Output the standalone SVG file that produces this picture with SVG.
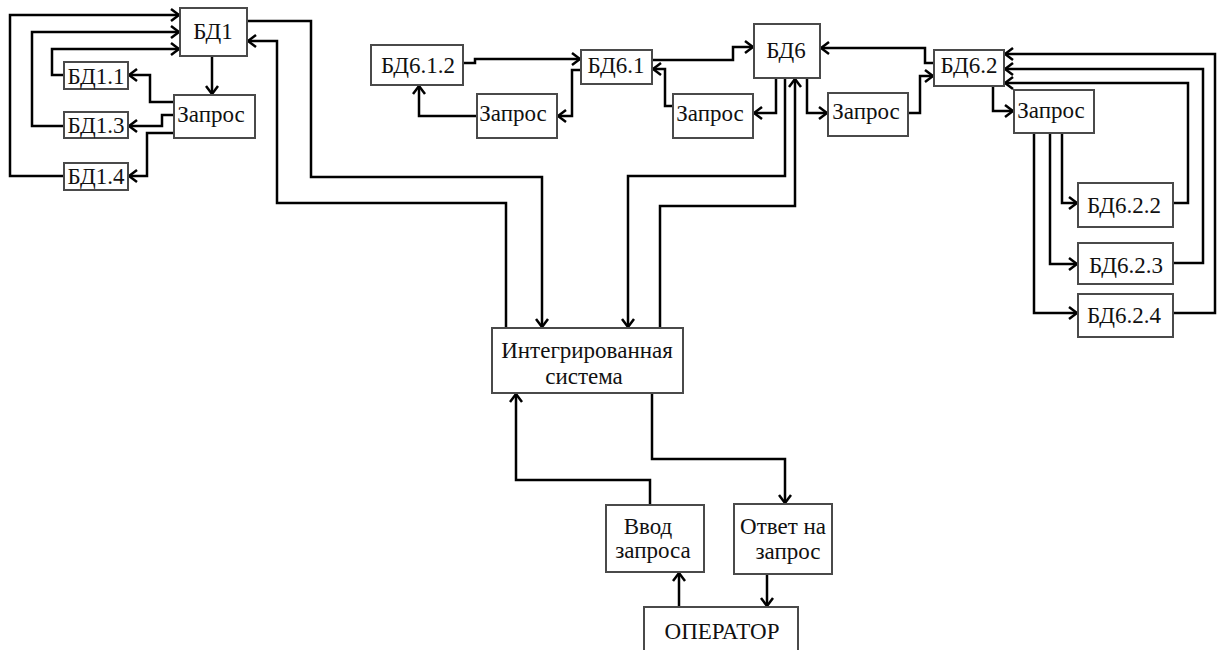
<svg xmlns="http://www.w3.org/2000/svg" width="1218" height="650" viewBox="0 0 1218 650">
<defs>
<marker id="ah" viewBox="-10 -8 12 16" markerWidth="12" markerHeight="16" refX="0" refY="0" orient="auto" markerUnits="userSpaceOnUse">
<path d="M-8,-6 L0,0 L-8,6" fill="none" stroke="#000" stroke-width="2.5" stroke-linejoin="miter"/>
</marker>
<style>
.box{fill:#fff;stroke:#4a4a4a;stroke-width:2}
.t{font-size:23px;fill:#111;text-anchor:middle}
.c{fill:none;stroke:#000;stroke-width:2.5;stroke-linejoin:miter}
.a{marker-end:url(#ah)}
</style>
</defs>
<rect width="1218" height="650" fill="#fff"/>
<g id="connectors">
<path class="c a" d="M64,176 H10 V15 H179"/>
<path class="c a" d="M64,126 H32 V32 H179"/>
<path class="c a" d="M64,75 H52 V49 H179"/>
<path class="c a" d="M212,56 V94"/>
<path class="c a" d="M174,102 H150 V75 H129"/>
<path class="c a" d="M174,115 H162 V126 H129"/>
<path class="c a" d="M174,133 H147 V176 H129"/>
<path class="c a" d="M247,21 H311 V177 H542 V327"/>
<path class="c a" d="M506,328 V203 H277 V41 H248"/>
<path class="c a" d="M463,63 H475 V59 H580"/>
<path class="c a" d="M477,116 H419 V86"/>
<path class="c a" d="M581,70 H572 V116 H558"/>
<path class="c a" d="M673,106 H665 V69 H653"/>
<path class="c a" d="M652,60 H733 V47 H753"/>
<path class="c a" d="M776,78 V113 H754"/>
<path class="c a" d="M785,78 V176 H628 V327"/>
<path class="c a" d="M660,328 V206 H795 V79"/>
<path class="c a" d="M807,78 V113 H827"/>
<path class="c a" d="M908,113 H920 V76 H933"/>
<path class="c a" d="M934,63 H925 V48 H821"/>
<path class="c a" d="M993,86 V111 H1013"/>
<path class="c a" d="M1062,133 V203 H1077"/>
<path class="c a" d="M1050,133 V264 H1077"/>
<path class="c a" d="M1034,133 V313 H1077"/>
<path class="c a" d="M1173,203 H1188 V83 H1005"/>
<path class="c a" d="M1173,263 H1203 V69 H1005"/>
<path class="c a" d="M1173,313 H1215 V54 H1005"/>
<path class="c a" d="M650,505 V480 H516 V394"/>
<path class="c a" d="M652,393 V459 H785 V503"/>
<path class="c a" d="M679,607 V573"/>
<path class="c a" d="M767,574 V606"/>
</g>
<g font-family="Liberation Serif, Times New Roman, serif">
<g id="bd1"><rect class="box" x="180" y="8" width="67" height="48"/><text class="t" x="213" y="39">БД1</text></g>
<g id="bd1-1"><rect class="box" x="64" y="62" width="64" height="27"/><text class="t" x="96" y="84">БД1.1</text></g>
<g id="bd1-3"><rect class="box" x="64" y="112" width="64" height="26"/><text class="t" x="96" y="133">БД1.3</text></g>
<g id="bd1-4"><rect class="box" x="64" y="163" width="64" height="27"/><text class="t" x="96" y="184">БД1.4</text></g>
<g id="zapros1"><rect class="box" x="174" y="95" width="81" height="43"/><text class="t" x="211" y="122">Запрос</text></g>
<g id="bd6-1-2"><rect class="box" x="371" y="45" width="92" height="40"/><text class="t" x="418" y="73">БД6.1.2</text></g>
<g id="bd6-1"><rect class="box" x="581" y="50" width="71" height="34"/><text class="t" x="616" y="73">БД6.1</text></g>
<g id="zapros2"><rect class="box" x="477" y="94" width="80" height="44"/><text class="t" x="513" y="121">Запрос</text></g>
<g id="zapros3"><rect class="box" x="673" y="94" width="80" height="44"/><text class="t" x="710" y="121">Запрос</text></g>
<g id="bd6"><rect class="box" x="754" y="24" width="66" height="54"/><text class="t" x="786" y="58">БД6</text></g>
<g id="zapros4"><rect class="box" x="828" y="93" width="80" height="43"/><text class="t" x="866" y="119">Запрос</text></g>
<g id="bd6-2"><rect class="box" x="934" y="50" width="70" height="36"/><text class="t" x="969" y="73">БД6.2</text></g>
<g id="zapros5"><rect class="box" x="1014" y="90" width="80" height="43"/><text class="t" x="1051" y="118">Запрос</text></g>
<g id="bd6-2-2"><rect class="box" x="1078" y="183" width="95" height="44"/><text class="t" x="1124" y="213">БД6.2.2</text></g>
<g id="bd6-2-3"><rect class="box" x="1078" y="243" width="95" height="41"/><text class="t" x="1126" y="273">БД6.2.3</text></g>
<g id="bd6-2-4"><rect class="box" x="1078" y="294" width="95" height="43"/><text class="t" x="1124" y="323">БД6.2.4</text></g>
<g id="integr"><rect class="box" x="492" y="328" width="191" height="65"/><text class="t" x="587" y="358">Интегрированная</text><text class="t" x="584" y="384">система</text></g>
<g id="vvod"><rect class="box" x="606" y="505" width="98" height="67"/><text class="t" x="648" y="534">Ввод</text><text class="t" x="653" y="558">запроса</text></g>
<g id="otvet"><rect class="box" x="734" y="504" width="98" height="70"/><text class="t" x="783" y="534">Ответ на</text><text class="t" x="788" y="559">запрос</text></g>
<g id="operator"><rect class="box" x="644" y="607" width="154" height="50"/><text class="t" x="722" y="639">ОПЕРАТОР</text></g>
</g>
</svg>
